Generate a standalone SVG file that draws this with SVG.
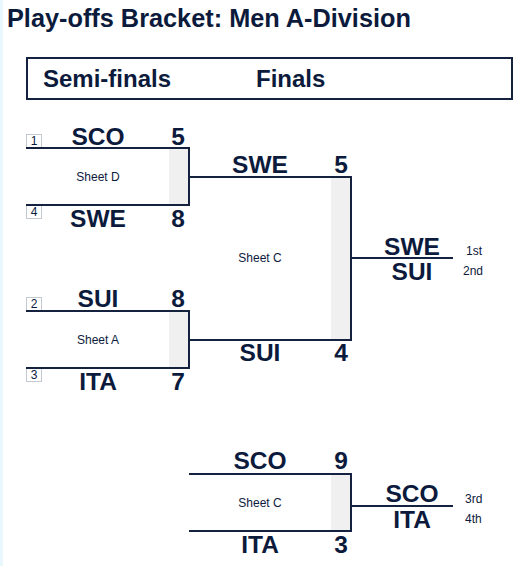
<svg xmlns="http://www.w3.org/2000/svg" width="520" height="566" viewBox="0 0 520 566">
<style>
text{font-family:"Liberation Sans",Arial,sans-serif;fill:#0c1a3c}
.t{font-weight:bold;font-size:24.5px;text-anchor:middle}
.h{font-weight:bold;font-size:24px}
.s{font-size:12px;text-anchor:middle}
.r{font-size:12px}
.seed{fill:#fff;stroke:#c4c8d0;stroke-width:1}
.sn{font-size:12px;text-anchor:middle}
.ln{stroke:#14213f;stroke-width:2;fill:none}
.g{fill:#f0f0f0}
</style>
<rect x="0" y="0" width="520" height="566" fill="#fff"/>
<rect x="0" y="0" width="3" height="566" fill="#eaf7fc"/>
<text x="7" y="27" style="font-weight:bold;font-size:25.3px">Play-offs Bracket: Men A-Division</text>
<g id="header">
<rect x="27" y="58" width="485" height="41" fill="#fff" stroke="#14213f" stroke-width="2"/>
<text class="h" x="43" y="87">Semi-finals</text>
<text class="h" x="256" y="87">Finals</text>
</g>
<g id="semi1">
<rect class="g" x="169" y="148" width="20" height="57"/>
<text class="s" x="98" y="181">Sheet D</text>
<rect class="seed" x="26.5" y="134.5" width="15" height="13"/>
<text class="sn" x="34" y="145">1</text>
<rect class="seed" x="26.5" y="205.5" width="15" height="13"/>
<text class="sn" x="34" y="216">4</text>
<text class="t" x="98" y="145">SCO</text>
<text class="t" x="178" y="145">5</text>
<text class="t" x="98" y="227">SWE</text>
<text class="t" x="178" y="227">8</text>
</g>
<g id="semi2">
<rect class="g" x="169" y="311" width="20" height="57"/>
<text class="s" x="98" y="344">Sheet A</text>
<rect class="seed" x="26.5" y="297.5" width="15" height="13"/>
<text class="sn" x="34" y="308">2</text>
<rect class="seed" x="26.5" y="368.5" width="15" height="13"/>
<text class="sn" x="34" y="379">3</text>
<text class="t" x="98" y="307">SUI</text>
<text class="t" x="178" y="307">8</text>
<text class="t" x="98" y="390">ITA</text>
<text class="t" x="178" y="390">7</text>
</g>
<g id="final">
<rect class="g" x="331" y="177" width="20" height="163"/>
<text class="s" x="260" y="262">Sheet C</text>
<text class="t" x="260" y="173">SWE</text>
<text class="t" x="341" y="173">5</text>
<text class="t" x="260" y="361">SUI</text>
<text class="t" x="341" y="361">4</text>
</g>
<g id="champion">
<text class="t" x="412" y="255">SWE</text>
<text class="t" x="412" y="280">SUI</text>
<text class="r" x="466" y="255">1st</text>
<text class="r" x="463" y="275">2nd</text>
</g>
<g id="bronze">
<rect class="g" x="331" y="474" width="20" height="57"/>
<text class="s" x="260" y="507">Sheet C</text>
<text class="t" x="260" y="469">SCO</text>
<text class="t" x="341" y="469">9</text>
<text class="t" x="260" y="553">ITA</text>
<text class="t" x="341" y="553">3</text>
</g>
<g id="third">
<text class="t" x="412" y="502">SCO</text>
<text class="t" x="412" y="528">ITA</text>
<text class="r" x="465" y="503">3rd</text>
<text class="r" x="465" y="523">4th</text>
</g>
<g id="connectors">
<polyline class="ln" points="26,148 189,148 189,205 26,205"/>
<polyline class="ln" points="26,311 189,311 189,368 26,368"/>
<line class="ln" x1="189" y1="177" x2="351" y2="177"/>
<line class="ln" x1="189" y1="340" x2="351" y2="340"/>
<line class="ln" x1="351" y1="176" x2="351" y2="341"/>
<line class="ln" x1="351" y1="258" x2="453" y2="258"/>
<polyline class="ln" points="189,474 351,474 351,531 189,531"/>
<line class="ln" x1="351" y1="506" x2="453" y2="506"/>
</g>
</svg>
